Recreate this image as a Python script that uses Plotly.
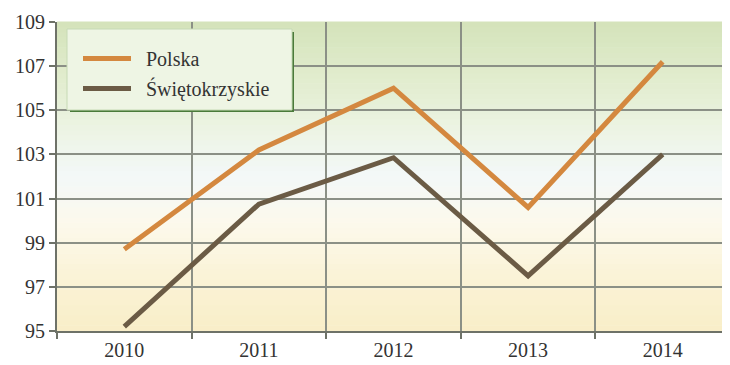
import plotly.graph_objects as go

years = ["2010", "2011", "2012", "2013", "2014"]
polska = [98.7, 103.2, 106.0, 100.6, 107.2]
swietokrzyskie = [95.2, 100.75, 102.85, 97.5, 103.0]
y_ticks = [95, 97, 99, 101, 103, 105, 107, 109]
series_names = ["Polska", "Świętokrzyskie"]

fig = go.Figure()

# background gradient stripes (styling only)
stops = [
    (0.00, (249, 238, 200)),
    (0.18, (250, 243, 215)),
    (0.35, (252, 249, 236)),
    (0.50, (243, 248, 248)),
    (0.62, (238, 245, 232)),
    (0.78, (228, 238, 210)),
    (1.00, (212, 227, 186)),
]
def col(t):
    for (t0, c0), (t1, c1) in zip(stops[:-1], stops[1:]):
        if t0 <= t <= t1:
            f = (t - t0) / (t1 - t0) if t1 > t0 else 0
            return "rgb(%d,%d,%d)" % tuple(round(a + (b - a) * f) for a, b in zip(c0, c1))
    return "rgb(%d,%d,%d)" % stops[-1][1]

n = 60
for i in range(n):
    fig.add_shape(type="rect", xref="x domain", yref="y domain",
                  x0=0, x1=1, y0=i / n, y1=(i + 1) / n + 0.002,
                  fillcolor=col((i + 0.5) / n), line_width=0, layer="below")

# legend box with shadow (styling)
PW, PH = 673.0, 309.0
bx0, bx1 = 10 / PW, 235 / PW
by1, by0 = 1 - 7 / PH, 1 - 88 / PH
fig.add_shape(type="rect", xref="x domain", yref="y domain",
              x0=bx0 + 3 / PW, x1=bx1 + 2 / PW, y0=by0 - 2 / PH, y1=by1 - 3 / PH,
              fillcolor="#4a7a3a", line_width=0, layer="above")
fig.add_shape(type="rect", xref="x domain", yref="y domain",
              x0=bx0, x1=bx1, y0=by0, y1=by1,
              fillcolor="rgb(238,245,228)", line=dict(color="#c6dab4", width=1),
              layer="above")

fig.add_trace(go.Scatter(x=years, y=polska, mode="lines", name="\u00a0\u00a0" + series_names[0],
                         legendgroup="a",
                         line=dict(color="#D4883F", width=5)))
fig.add_trace(go.Scatter(x=years, y=swietokrzyskie, mode="lines", name="\u00a0\u00a0" + series_names[1],
                         legendgroup="b",
                         line=dict(color="#6B5B45", width=5)))

fig.update_layout(
    width=722, height=357,
    margin=dict(l=49, r=0, t=14, b=34),
    paper_bgcolor="white",
    plot_bgcolor="rgba(0,0,0,0)",
    font=dict(family="Liberation Serif", size=20, color="#333333"),
    showlegend=True,
    legend=dict(x=21 / PW, y=1 - 17 / PH, xanchor="left", yanchor="top",
                bgcolor="rgba(0,0,0,0)", borderwidth=0,
                font=dict(family="Liberation Serif", size=20, color="#333333"),
                tracegroupgap=1, traceorder="grouped", itemwidth=48),
    xaxis=dict(type="category", range=[-0.5, 4.5], tickson="boundaries",
               showgrid=True, gridcolor="#8b9086", gridwidth=2,
               showline=True, linecolor="#6e7268", linewidth=2,
               ticks="outside", ticklen=6, tickcolor="#6e7268", tickwidth=2,
               tickfont=dict(size=20), zeroline=False, fixedrange=True),
    yaxis=dict(range=[95, 109], tickvals=y_ticks, ticktext=[str(v) for v in y_ticks],
               showgrid=True, gridcolor="#8b9086", gridwidth=2,
               showline=True, linecolor="#6e7268", linewidth=2,
               ticks="outside", ticklen=6, tickcolor="#6e7268", tickwidth=2,
               tickfont=dict(size=20), zeroline=False, fixedrange=True),
)

fig.write_html("out.html")
